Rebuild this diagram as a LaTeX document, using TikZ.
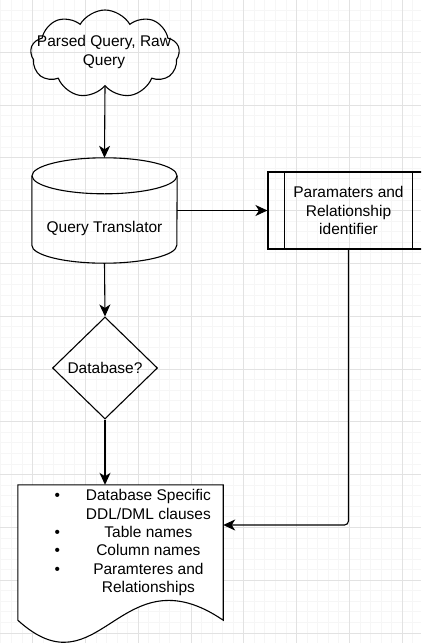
\documentclass[tikz,border=0pt]{standalone}
\usepackage{fontspec}
\setmainfont{Liberation Sans}
\usetikzlibrary{arrows.meta, positioning, shapes.geometric, shapes.symbols}
\definecolor{gridMajor}{RGB}{226,226,226}
\definecolor{gridMinor}{RGB}{246,246,246}

\begin{document}
\begin{tikzpicture}[x=1pt, y=-1pt,
  every node/.style={font=\fontsize{15.5}{18.4}\selectfont},
  shapeline/.style={draw=black, line width=1.1pt},
  flow/.style={line width=1.1pt, -{Stealth[length=12pt, width=11pt, inset=3.5pt]}},
  cloudbox/.style={shapeline, cloud, cloud puffs=9, cloud puff arc=120, aspect=1.7,
    minimum width=149pt, minimum height=88pt, inner sep=0pt},
  procbox/.style={shapeline, rectangle, minimum width=161pt, minimum height=77pt, align=center},
  decision/.style={shapeline, diamond, minimum width=105pt, minimum height=102pt, inner sep=0pt},
]
  \useasboundingbox (0,0) rectangle (421,643);
  \clip (0,0) rectangle (421,643);
  \fill[white] (0,0) rectangle (421,643);

  % Background grid: fine lines, every fifth one darker
  \foreach \k in {-4,...,37} {
    \draw[gridMinor, line width=0.5pt] ({32.4+10.56*\k},0) -- ++(0,643);
  }
  \foreach \k in {-5,...,56} {
    \draw[gridMinor, line width=0.5pt] (0,{52+10.56*\k}) -- ++(421,0);
  }
  \foreach \k in {0,...,7} {
    \draw[gridMajor, line width=0.6pt] ({32.4+52.8*\k},0) -- ++(0,643);
  }
  \foreach \k in {0,...,11} {
    \draw[gridMajor, line width=0.6pt] (0,{52+52.8*\k}) -- ++(421,0);
  }

  % Input
  \node (query) [cloudbox] at (105,54) {};
  \node (querylabel) [align=center] at (104,52) {Parsed Query, Raw\\Query};

  % Translator (cylinder drawn by hand) + identifier
  \node (qt) [minimum width=145pt, minimum height=105pt, inner sep=0pt] at (104.5,210.5) {};
  \draw[shapeline] ([yshift=-18pt]qt.north west) -- ([yshift=18pt]qt.south west)
    arc[start angle=180, end angle=360, x radius=72.5pt, y radius=18pt]
    -- ([yshift=-18pt]qt.north east);
  \draw[shapeline] ([yshift=-18pt]qt.north) ellipse[x radius=72.5pt, y radius=18pt];
  \node (qtlabel) at (104.5,228) {Query Translator};
  \node (pid) [procbox] at (348.5,210.5) {Paramaters and\\Relationship\\identifier};
  \draw[shapeline] ([xshift=17pt]pid.north west) -- ([xshift=17pt]pid.south west);
  \draw[shapeline] ([xshift=-17pt]pid.north east) -- ([xshift=-17pt]pid.south east);

  % Decision
  \node (db) [decision] at (105,368) {Database?};

  % Output document
  \node (doc) [minimum width=205pt, minimum height=135pt, inner sep=0pt] at (120.5,552.5) {};
  \draw[shapeline, fill=white] (doc.south west) -- (doc.north west) -- (doc.north east)
    -- (doc.south east) .. controls (120,550) and (100,695) .. (doc.south west) -- cycle;
  \node (doctext) [anchor=west, inner sep=0pt] at (54.3,543) {%
    \begin{tabular}{@{}c@{\hspace{26pt}}c@{}}
      \textbullet & Database Specific\\
                  & DDL/DML clauses\\
      \textbullet & Table names\\
      \textbullet & Column names\\
      \textbullet & Paramteres and\\
                  & Relationships
    \end{tabular}};

  % Connectors
  \draw[flow] (query.south) -- (qt.north);
  \draw[flow] (qt.east) -- (pid.west);
  \draw[flow] (qt.south) -- (db.north);
  \draw[flow] (db.south) -- (db.south |- doc.north);
  \draw[flow, rounded corners=4pt] (pid.south) |- ([yshift=27.5pt]doc.east);
\end{tikzpicture}
\end{document}
